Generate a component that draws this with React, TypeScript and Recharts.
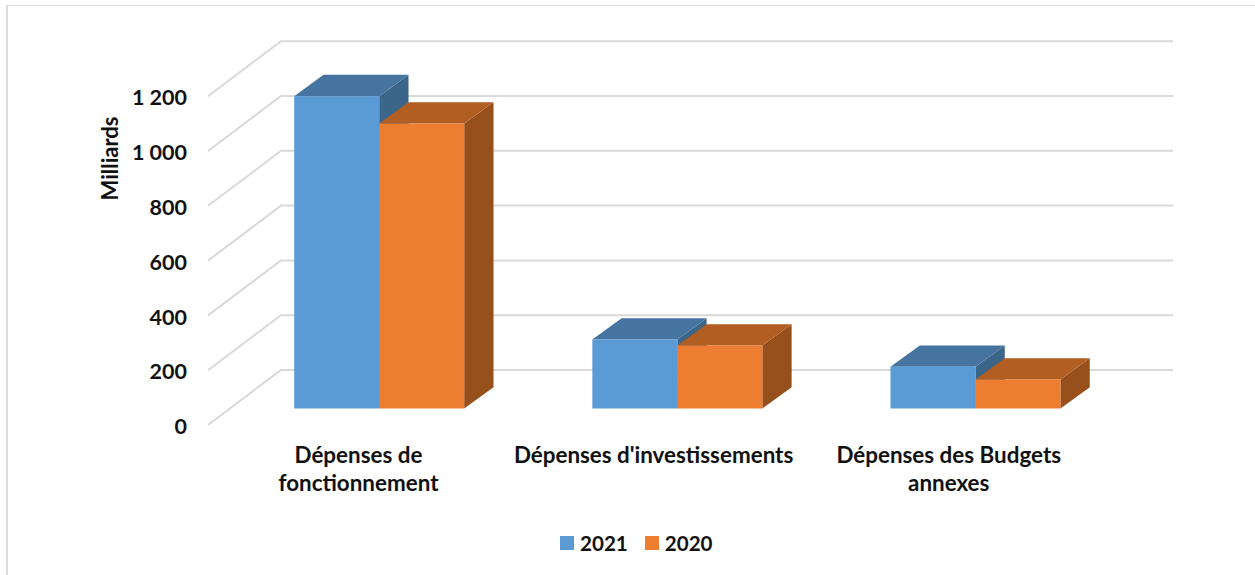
import { BarChart, Bar, XAxis, YAxis, CartesianGrid, Legend } from 'recharts'

const categories = [
  'Dépenses de fonctionnement',
  "Dépenses d'investissements",
  'Dépenses des Budgets annexes',
]
const categoryLines = [
  ['Dépenses de', 'fonctionnement'],
  ["Dépenses d'investissements"],
  ['Dépenses des Budgets', 'annexes'],
]
const values2021 = [1140, 252, 152]
const values2020 = [1040, 230, 106]
const yTicks = [0, 200, 400, 600, 800, 1000, 1200]

const data = categories.map((name, i) => ({
  name,
  y2021: values2021[i],
  y2020: values2020[i],
}))

const FONT = 'Lato, sans-serif'
const TEXT = '#111111'
const GRID = '#D9D9D9'

// extrusion of each bar towards the back wall
const DEPTH_X = 29.3
const DEPTH_Y = 21.3

const formatTick = (v: number) => String(v).replace(/\B(?=(\d{3})+$)/g, ' ')

function Box(props: any) {
  const { x, y, width, height, fill, topFill, sideFill } = props
  const r = x + width
  const b = y + height
  return (
    <g>
      <polygon
        points={`${r},${y} ${r + DEPTH_X},${y - DEPTH_Y} ${r + DEPTH_X},${b - DEPTH_Y} ${r},${b}`}
        fill={sideFill}
      />
      <polygon
        points={`${x},${y} ${x + DEPTH_X},${y - DEPTH_Y} ${r + DEPTH_X},${y - DEPTH_Y} ${r},${y}`}
        fill={topFill}
      />
      <rect x={x} y={y} width={width} height={height} fill={fill} />
    </g>
  )
}

// one gridline runs along the back wall, then down the side wall to the front
function WallLine(props: any) {
  const { x1, x2, y } = props
  const backY = y - 38.5
  const backX = x1 + 50.6
  const d = `M${x1 - 22.4},${backY + 55} L${backX},${backY} L${x2 + 48.2},${backY}`
  return <path d={d} fill="none" stroke={GRID} strokeWidth={2} />
}

function ValueTick(props: any) {
  const { y, payload } = props
  return (
    <text
      x={187}
      y={y + 17.6}
      textAnchor="end"
      dominantBaseline="central"
      fontFamily={FONT}
      fontWeight={700}
      fontSize={21.5}
      fill={TEXT}
    >
      {formatTick(payload.value)}
    </text>
  )
}

function CategoryTick(props: any) {
  const { x, y, index } = props
  const lines = categoryLines[index] ?? []
  return (
    <text
      x={x - 21 - 3 * index}
      y={y}
      textAnchor="middle"
      fontFamily={FONT}
      fontWeight={700}
      fontSize={22.4}
      fill={TEXT}
    >
      {lines.map((line, i) => (
        <tspan key={i} x={x - 21 - 3 * index} y={y + 54.8 + i * 28}>
          {line}
        </tspan>
      ))}
    </text>
  )
}

function LegendRow({ payload }: any) {
  return (
    <div style={{ display: 'flex', fontFamily: FONT, fontWeight: 700, fontSize: 20.6, color: TEXT }}>
      {(payload ?? []).map((entry: any) => (
        <div
          key={entry.value}
          style={{ display: 'flex', alignItems: 'center', marginRight: 17, lineHeight: '26px' }}
        >
          <span
            style={{ width: 14, height: 14, background: entry.color, marginRight: 6, display: 'block' }}
          />
          {entry.value}
        </div>
      ))}
    </div>
  )
}

export default function App() {
  return (
    <div style={{ position: 'absolute', left: 0, top: 0, width: 1255, height: 575, background: '#fff' }}>
      <div
        style={{
          position: 'absolute',
          left: 6,
          top: 5,
          right: 0,
          bottom: 0,
          borderTop: '1px solid #DDDDDD',
          borderLeft: '2px solid #DDDDDD',
        }}
      />
      <BarChart
        width={1255}
        height={575}
        data={data}
        margin={{ top: 79.7, right: 130.2, bottom: 60.5, left: 170.4 }}
        barCategoryGap="21.4%"
        barGap={0}
        style={{ position: 'absolute', left: 0, top: 0 }}
      >
        <CartesianGrid vertical={false} horizontal={(p: any) => <WallLine key={p.key ?? p.y} {...p} y={p.y1} />} />
        <XAxis
          dataKey="name"
          height={80}
          axisLine={false}
          tickLine={false}
          tickSize={0}
          tickMargin={0}
          interval={0}
          tick={(p: any) => <CategoryTick {...p} />}
        />
        <YAxis
          width={60}
          domain={[0, 1200]}
          ticks={yTicks}
          axisLine={false}
          tickLine={false}
          interval={0}
          tick={(p: any) => <ValueTick {...p} />}
        />
        <Bar
          dataKey="y2021"
          name="2021"
          fill="#5B9BD5"
          isAnimationActive={false}
          shape={(p: any) => <Box {...p} topFill="#4674A0" sideFill="#3B6689" />}
        />
        <Bar
          dataKey="y2020"
          name="2020"
          fill="#ED7D31"
          isAnimationActive={false}
          shape={(p: any) => <Box {...p} topFill="#B25D22" sideFill="#974F1C" />}
        />
        <Legend
          content={<LegendRow />}
          itemSorter={null}
          wrapperStyle={{ position: 'absolute', left: 560, top: 530, width: 'auto', bottom: 'auto' }}
        />
        <text
          transform="translate(109,158.5) rotate(-90)"
          textAnchor="middle"
          dominantBaseline="central"
          fontFamily={FONT}
          fontWeight={700}
          fontSize={22}
          fill={TEXT}
        >
          Milliards
        </text>
      </BarChart>
    </div>
  )
}
